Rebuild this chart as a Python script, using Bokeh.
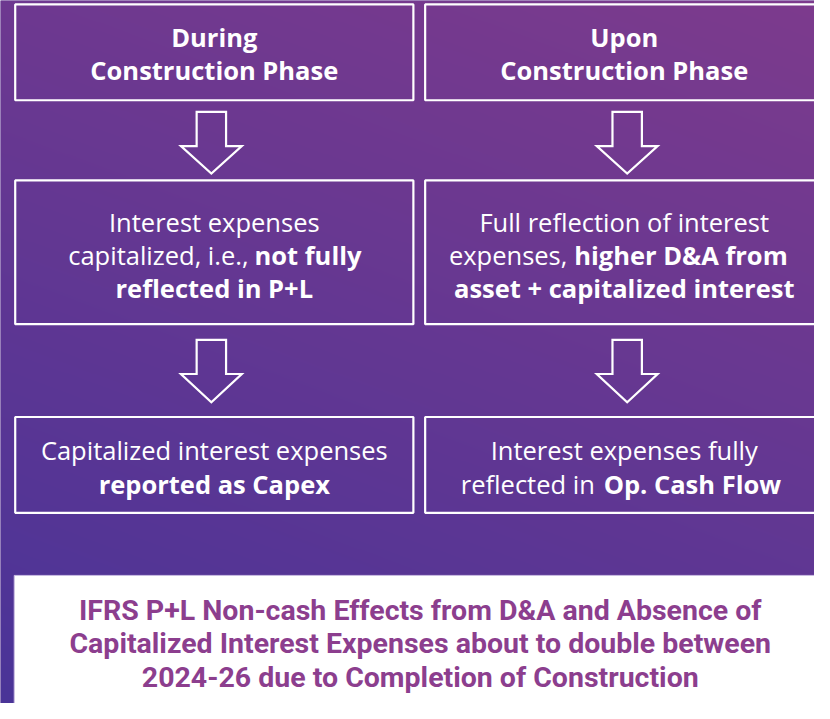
import numpy as np
from bokeh.plotting import figure
from bokeh.models import Range1d
from bokeh.core.properties import value
from bokeh.embed import file_html
from bokeh.resources import INLINE

# ---------------- content ----------------
title_lines = ["During", "Construction Phase", "Upon", "Construction Phase"]

# each segment: text, bold?
body_segments = [
    ("Interest expenses", False),
    ("capitalized, i.e.,", False),
    ("not fully", True),
    ("reflected in P+L", True),
    ("Full reflection of interest", False),
    ("expenses,", False),
    ("higher D&A from", True),
    ("asset + capitalized interest", True),
    ("Capitalized interest expenses", False),
    ("reported as Capex", True),
    ("Interest expenses fully", False),
    ("reflected in", False),
    ("Op. Cash Flow", True),
]

summary_lines = [
    "IFRS P+L Non-cash Effects from D&A and Absence of",
    "Capitalized Interest Expenses about to double between",
    "2024-26 due to Completion of Construction",
]

# ---------------- layout (reference pixel coordinates) ----------------
W, H = 830, 719
box_left = [15, 15, 15, 433, 433, 433]
box_right = [421, 421, 421, 839, 839, 839]
box_top = [4, 184, 426, 4, 184, 426]
box_bottom = [102, 331, 524, 102, 331, 524]

arrow_cx = [215, 215, 639, 639]
arrow_top = [114, 347, 114, 347]
arrow_head = [149, 382, 149, 382]
arrow_tip = [177, 411, 177, 411]
SHAFT, HEAD = 15, 31

title_x = [218, 218, 636, 636]
title_y = [37, 71, 37, 71]

body_x = [218, 253, 259, 218, 636, 578, 585, 636, 218, 218, 636, 606, 615]
body_y = [227, 260, 260, 294, 227, 260, 260, 294, 460, 494, 460, 494, 494]
body_align = ["center", "right", "left", "center", "center", "right", "left",
              "center", "center", "center", "center", "right", "left"]

summary_x = [428, 428, 428]
summary_y = [624, 658, 692]

FONT = "Open Sans"

p = figure(width=814, height=703, x_range=Range1d(0, W), y_range=Range1d(H, 0),
           output_backend="svg", toolbar_location=None, min_border=0)
p.axis.visible = False
p.grid.visible = False
p.outline_line_color = None
p.background_fill_color = "#5e3792"
p.border_fill_color = "#5e3792"

# background gradient (bottom-left blue-violet -> top-right magenta-violet)
c0 = np.array([74, 52, 152], dtype=float)
c1 = np.array([125, 59, 141], dtype=float)
yy, xx = np.mgrid[0:H, 0:W]
t = 0.3 * (xx / W) + 0.7 * (1 - yy / H)
img = np.empty((H, W), dtype=np.uint32)
view = img.view(dtype=np.uint8).reshape((H, W, 4))
for k in range(3):
    view[:, :, k] = (c0[k] + (c1[k] - c0[k]) * t).astype(np.uint8)
view[:, :, 3] = 255
p.image_rgba(image=[img], x=0, y=0, dw=W, dh=H)

# boxes
p.quad(left=box_left, right=box_right, top=box_top, bottom=box_bottom,
       fill_color=None, line_color="white", line_width=2.2)

# arrows
xs, ys = [], []
for cx, t0, hy, ty in zip(arrow_cx, arrow_top, arrow_head, arrow_tip):
    xs.append([cx - SHAFT, cx + SHAFT, cx + SHAFT, cx + HEAD, cx, cx - HEAD, cx - SHAFT])
    ys.append([t0, t0, hy, hy, ty, hy, hy])
p.patches(xs=xs, ys=ys, fill_alpha=0, line_color="white", line_width=2.2,
          line_join="miter")

# titles
p.text(x=title_x, y=title_y, text=title_lines, text_font=value(FONT),
       text_font_size="25.5px", text_font_style="bold", text_color="white",
       text_align="center", text_baseline="middle")

# body
for (txt, bold), x, y, al in zip(body_segments, body_x, body_y, body_align):
    p.text(x=[x], y=[y], text=[txt], text_font=value(FONT),
           text_font_size="25.5px", text_font_style="bold" if bold else "normal",
           text_color="white", text_align=al, text_baseline="middle")

# summary white box
p.quad(left=[14], right=[842], top=[588], bottom=[730], fill_color="white",
       line_color="#cbbde3", line_width=1)
p.text(x=summary_x, y=summary_y, text=summary_lines, text_font=value("Roboto"),
       text_font_size="28.5px", text_font_style="bold", text_color="#8c3e8e",
       text_align="center", text_baseline="middle")

open("out.html", "w").write(file_html(p, INLINE))
